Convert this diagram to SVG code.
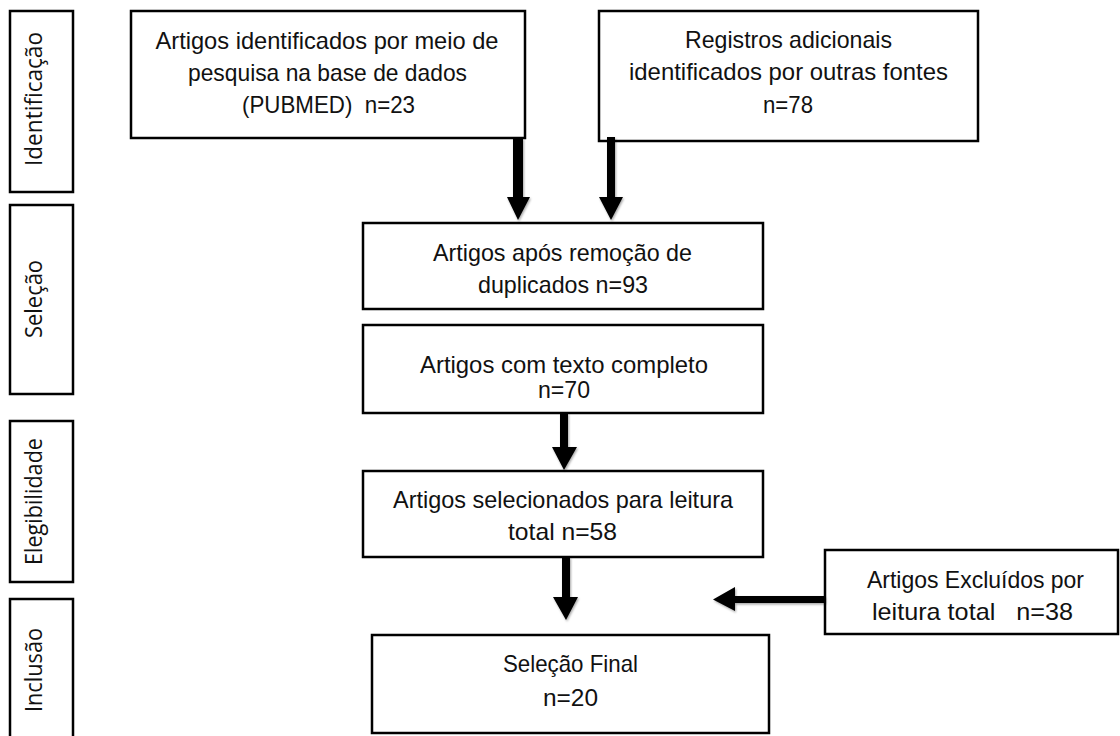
<svg xmlns="http://www.w3.org/2000/svg" width="1120" height="736" viewBox="0 0 1120 736">
<style>
.box{fill:#fff;stroke:#000;stroke-width:2.5}
.t{font-family:"Liberation Sans",Arial,sans-serif;font-size:24px;fill:#111;text-anchor:middle}
.s{font-family:"Open Sans","Noto Sans",sans-serif;font-size:24px;fill:#111;text-anchor:middle}
.arr{fill:#000;filter:url(#sh)}
</style>
<defs>
<filter id="sh" x="-30%" y="-30%" width="160%" height="160%">
<feDropShadow dx="1" dy="1.5" stdDeviation="1.2" flood-color="#000" flood-opacity="0.35"/>
</filter>
</defs>
<rect width="1120" height="736" fill="#fff"/>

<g id="phase-identificacao">
<rect class="box" x="10" y="11" width="63" height="181"/>
<text class="s" transform="translate(42,99) rotate(-90)" textLength="134" lengthAdjust="spacingAndGlyphs">Identificação</text>
</g>
<g id="phase-selecao">
<rect class="box" x="10" y="205" width="63" height="189"/>
<text class="s" transform="translate(42,299) rotate(-90)" textLength="78" lengthAdjust="spacingAndGlyphs">Seleção</text>
</g>
<g id="phase-elegibilidade">
<rect class="box" x="10" y="421" width="63" height="161"/>
<text class="s" transform="translate(42,501.5) rotate(-90)" textLength="127" lengthAdjust="spacingAndGlyphs">Elegibilidade</text>
</g>
<g id="phase-inclusao">
<rect class="box" x="10" y="599" width="63" height="150"/>
<text class="s" transform="translate(42,670) rotate(-90)" textLength="84" lengthAdjust="spacingAndGlyphs">Inclusão</text>
</g>

<g id="n-pubmed">
<rect class="box" x="131" y="11" width="394" height="127"/>
<text class="t" x="327" y="49" textLength="343" lengthAdjust="spacingAndGlyphs">Artigos identificados por meio de</text>
<text class="t" x="327.5" y="81" textLength="279" lengthAdjust="spacingAndGlyphs">pesquisa na base de dados</text>
<text class="t" x="328.5" y="113" textLength="173" lengthAdjust="spacingAndGlyphs" xml:space="preserve">(PUBMED)  n=23</text>
</g>

<g id="n-outras">
<rect class="box" x="599" y="11" width="379" height="130"/>
<text class="t" x="788.5" y="48" textLength="207" lengthAdjust="spacingAndGlyphs">Registros adicionais</text>
<text class="t" x="788.5" y="80" textLength="319" lengthAdjust="spacingAndGlyphs">identificados por outras fontes</text>
<text class="t" x="788" y="113" textLength="50" lengthAdjust="spacingAndGlyphs">n=78</text>
</g>

<g id="n-duplicados">
<rect class="box" x="363" y="223" width="400" height="86"/>
<text class="t" x="562.5" y="261" textLength="259" lengthAdjust="spacingAndGlyphs">Artigos após remoção de</text>
<text class="t" x="563" y="293" textLength="170" lengthAdjust="spacingAndGlyphs">duplicados n=93</text>
</g>

<g id="n-completo">
<rect class="box" x="363" y="325" width="400" height="88"/>
<text class="t" x="564" y="373" textLength="288" lengthAdjust="spacingAndGlyphs">Artigos com texto completo</text>
<text class="t" x="564" y="398" textLength="52" lengthAdjust="spacingAndGlyphs">n=70</text>
</g>

<g id="n-selecionados">
<rect class="box" x="363" y="471" width="400" height="86"/>
<text class="t" x="563" y="508" textLength="340" lengthAdjust="spacingAndGlyphs">Artigos selecionados para leitura</text>
<text class="t" x="562.5" y="540" textLength="109" lengthAdjust="spacingAndGlyphs">total n=58</text>
</g>

<g id="n-final">
<rect class="box" x="372" y="635" width="397" height="98"/>
<text class="t" x="570.5" y="672" textLength="135" lengthAdjust="spacingAndGlyphs">Seleção Final</text>
<text class="t" x="570.5" y="706" textLength="55" lengthAdjust="spacingAndGlyphs">n=20</text>
</g>

<g id="n-excluidos">
<rect class="box" x="825" y="550" width="293" height="84"/>
<text class="t" x="975.5" y="588" textLength="217" lengthAdjust="spacingAndGlyphs">Artigos Excluídos por</text>
<text class="t" x="972.5" y="620" textLength="201" lengthAdjust="spacingAndGlyphs" xml:space="preserve">leitura total   n=38</text>
</g>

<g id="connectors">
<polygon class="arr" points="513,138 523,138 523,197 530,197 518,220 507,197 513,197"/>
<polygon class="arr" points="607,137 615,137 615,197 623,197 611,220 599,197 607,197"/>
<polygon class="arr" points="560,413 568,413 568,447 577,447 564,470 552,447 560,447"/>
<polygon class="arr" points="562,557 570,557 570,597 578,597 566,620 553,597 562,597"/>
<polygon class="arr" points="825,596 825,603 735,603 735,611 713,599.5 735,587 735,596"/>
</g>
</svg>
